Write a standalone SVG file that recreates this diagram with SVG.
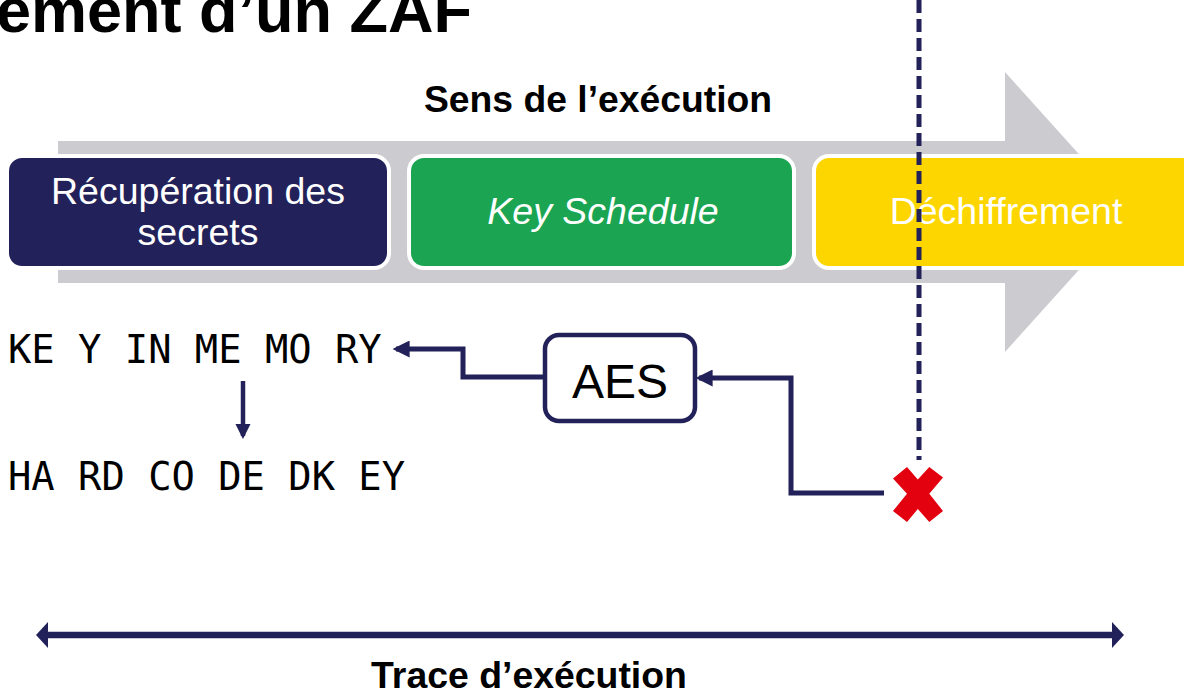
<svg xmlns="http://www.w3.org/2000/svg" width="1184" height="692" viewBox="0 0 1184 692">
<defs>
<style>
.bold{font-family:"Liberation Sans",Arial,sans-serif;font-weight:bold;fill:#000}
.lbl{font-family:"Liberation Sans",Arial,sans-serif;fill:#fff;font-size:37.5px;text-anchor:middle}
.mono{font-family:"DejaVu Sans Mono",monospace;font-size:38.8px;fill:#000}
.conn{fill:none;stroke:#222159;stroke-linejoin:miter}
.box{stroke:#fff;stroke-width:4}
</style>
<marker id="ah" viewBox="0 0 10 10" refX="8" refY="5" markerWidth="3.4" markerHeight="3.4" orient="auto-start-reverse" markerUnits="strokeWidth">
<path d="M0,0 L10,5 L0,10 z" fill="#222159"/>
</marker>
</defs>
<rect width="1184" height="692" fill="#fff"/>
<text class="bold" x="-4" y="32" font-size="63">ement d’un ZAF</text>
<text class="bold" x="598" y="112" font-size="37.3" text-anchor="middle">Sens de l’exécution</text>
<polygon id="flow-arrow" points="58,141 1005,141 1005,72 1131,212 1005,352 1005,283 58,283" fill="#cbcbd0"/>
<g id="recuperation">
<rect class="box" x="7" y="156" width="382" height="112" rx="15" fill="#222159"/>
<text class="lbl" x="198" y="204">Récupération des</text>
<text class="lbl" x="198" y="245">secrets</text>
</g>
<g id="key-schedule">
<rect class="box" x="409" y="156" width="385" height="112" rx="15" fill="#1ba553"/>
<text class="lbl" x="603" y="224" font-style="italic">Key Schedule</text>
</g>
<g id="dechiffrement">
<rect class="box" x="814" y="156" width="390" height="112" rx="15" fill="#fdd600"/>
<text class="lbl" x="1006" y="224">Déchiffrement</text>
</g>
<line id="cut-line" x1="919" y1="0" x2="919" y2="460" stroke="#222159" stroke-width="5" stroke-dasharray="13,6"/>
<g id="aes">
<rect x="545" y="335" width="150" height="86" rx="14" fill="#fff" stroke="#222159" stroke-width="4.5"/>
<text x="620" y="398" font-family="Liberation Sans,Arial,sans-serif" font-size="48" text-anchor="middle" fill="#000">AES</text>
</g>
<g id="key-in-memory"><text class="mono" x="8" y="363">KE Y IN ME MO RY</text></g>
<g id="hardcoded-key"><text class="mono" x="8" y="490">HA RD CO DE DK EY</text></g>
<g id="fault">
<polygon points="893,478.5 907,467 917.8,479.4 929.3,467 943,477.5 929.3,493.8 943,511 929.3,522 917.8,508.9 907,522 893,511 907,493.8" fill="#e3000f"/>
</g>
<g id="connectors">
<polyline class="conn" style="stroke-width:5" points="884,493 791,493 791,378 699,378" marker-end="url(#ah)"/>
<polyline class="conn" style="stroke-width:5" points="545,377 463,377 463,349 396,349" marker-end="url(#ah)"/>
<line class="conn" style="stroke-width:4.5" x1="243" y1="381" x2="243" y2="436" marker-end="url(#ah)"/>
<line class="conn" style="stroke-width:6.5" x1="46" y1="635" x2="1114" y2="635"/>
<polygon points="36,635 48,622 48,648" fill="#222159"/>
<polygon points="1124,635 1112,622 1112,648" fill="#222159"/>
</g>
<text class="bold" x="529" y="688" font-size="37.4" text-anchor="middle">Trace d’exécution</text>
</svg>
